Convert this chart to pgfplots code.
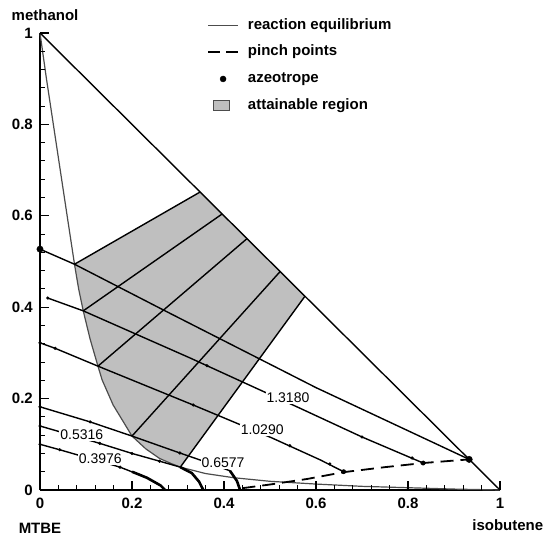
\documentclass[border=0pt]{standalone}
\usepackage{fontspec}
\setmainfont{Liberation Sans}
\usepackage{pgfplots}
\pgfplotsset{compat=1.18}

\begin{document}
\begin{tikzpicture}
\path (-40pt,-47pt) rectangle (506pt,490pt);
\begin{axis}[
  anchor=south west, at={(0pt,0pt)},
  scale only axis, width=460pt, height=457pt,
  xmin=0, xmax=1, ymin=0, ymax=1,
  axis lines=left,
  axis line style={-, line width=1.4pt},
  clip=false,
  xtick={0,0.2,0.4,0.6,0.8,1}, ytick={0,0.2,0.4,0.6,0.8,1},
  xticklabels={0,0.2,0.4,0.6,0.8,1}, yticklabels={0,0.2,0.4,0.6,0.8,1},
  major tick length=0pt,
  ticklabel style={font=\fontsize{15}{17}\selectfont\bfseries, inner sep=0pt},
  xticklabel style={anchor=north, yshift=-8pt},
  yticklabel style={anchor=east, xshift=-7pt},
  legend style={at={(axis description cs:0.363,1.033)}, anchor=north west,
    draw=none, fill=none, inner sep=0pt, row sep=12.3pt, column sep=9pt,
    font=\fontsize{15}{17}\selectfont\bfseries,
    nodes={inner sep=0pt, text height=11pt, text depth=3.5pt}},
  legend cell align=left,
]

% legend entries
\addlegendimage{legend image code/.code={\draw[black!70, line width=1pt] (0pt,0pt) -- (30pt,0pt);}}
\addlegendimage{legend image code/.code={\draw[black, line width=1.8pt, dash pattern=on 12pt off 6pt] (0pt,0pt) -- (30pt,0pt);}}
\addlegendimage{legend image code/.code={\path[draw=none] (0pt,0pt) -- (30pt,0pt); \fill[black] (15pt,0pt) circle (3pt);}}
\addlegendimage{legend image code/.code={\path[draw=none] (0pt,0pt) -- (30pt,0pt); \draw[black!70, fill=black!25, line width=0.6pt] (5pt,-5pt) rectangle (21pt,5pt);}}
\legend{reaction equilibrium, pinch points, azeotrope, attainable region}

% attainable region
\addplot[fill=black!25, draw=none] coordinates {
  (0.075,0.494) (0.348,0.652) (0.576,0.424) (0.305,0.050) (0.285,0.058)
  (0.260,0.069) (0.230,0.090) (0.200,0.118) (0.159,0.186) (0.135,0.241)
  (0.126,0.271) (0.109,0.330) (0.094,0.392) (0.084,0.440) (0.075,0.494)} -- cycle;

% reaction equilibrium
\addplot[black!70, line width=1.2pt] coordinates {
  (0,1) (0.014,0.9) (0.029,0.8) (0.044,0.7) (0.059,0.6) (0.075,0.494)
  (0.084,0.44) (0.094,0.392) (0.109,0.33) (0.126,0.271) (0.135,0.241)
  (0.159,0.186) (0.200,0.118) (0.230,0.090) (0.260,0.069) (0.285,0.058)
  (0.305,0.050) (0.36,0.036) (0.42,0.027) (0.5,0.019) (0.6,0.013)
  (0.7,0.008) (0.8,0.005) (0.9,0.002) (1,0)};

% triangle edge methanol--isobutene
\addplot[black, line width=1.4pt] coordinates {(0,1) (1,0)};

% lines of the second family across the region
\addplot[black, line width=1.4pt] coordinates {(0.075,0.494) (0.348,0.652)};
\addplot[black, line width=1.4pt] coordinates {(0.094,0.392) (0.396,0.604)};
\addplot[black, line width=1.4pt] coordinates {(0.126,0.271) (0.450,0.550)};
\addplot[black, line width=1.4pt] coordinates {(0.200,0.118) (0.522,0.478)};
\addplot[black, line width=1.4pt] coordinates {(0.305,0.050) (0.576,0.424)};

% profiles from the methanol--MTBE edge
\addplot[black, line width=1.4pt] coordinates {(0,0.527) (0.075,0.494) (0.27,0.393) (0.6,0.224) (0.933,0.067)};
\addplot[black, line width=1.4pt] coordinates {(0.017,0.42) (0.094,0.392) (0.326,0.289) (0.565,0.179) (0.7,0.116) (0.833,0.059)};
\addplot[black, line width=1.4pt] coordinates {(0,0.322) (0.033,0.31) (0.126,0.271) (0.333,0.186) (0.504,0.114) (0.609,0.066) (0.66,0.04)};
\addplot[black, line width=1.4pt] coordinates {(0,0.182) (0.109,0.149) (0.2,0.118) (0.304,0.081) (0.37,0.058) (0.413,0.042) (0.428,0.02) (0.435,0)};
\addplot[black, line width=1.4pt] coordinates {(0,0.14) (0.13,0.102) (0.2,0.08) (0.26,0.063) (0.305,0.05) (0.33,0.037) (0.346,0.018) (0.355,0)};
\addplot[black, line width=1.4pt] coordinates {(0,0.1) (0.043,0.088) (0.174,0.05) (0.232,0.027) (0.262,0.01) (0.272,0)};
% dense end sections
\addplot[black, line width=2.6pt] coordinates {(0.413,0.042) (0.428,0.02) (0.435,0)};
\addplot[black, line width=2.6pt] coordinates {(0.305,0.05) (0.33,0.037) (0.346,0.018) (0.355,0)};
\addplot[black, line width=2.6pt] coordinates {(0.2,0.04) (0.232,0.027) (0.262,0.01) (0.272,0)};

% pinch points
\addplot[black, line width=1.8pt, dash pattern=on 13pt off 7pt] coordinates {
  (0.44,0.004) (0.5,0.012) (0.58,0.024) (0.66,0.039) (0.75,0.05) (0.833,0.059) (0.933,0.067)};

% profile labels
\begin{scope}[every node/.style={fill=white, inner sep=1pt, font=\fontsize{14}{16}\selectfont}]
\node at (axis cs:0.539,0.201) {1.3180};
\node at (axis cs:0.483,0.131) {1.0290};
\node at (axis cs:0.398,0.059) {0.6577};
\node at (axis cs:0.091,0.120) {0.5316};
\node at (axis cs:0.131,0.068) {0.3976};
\end{scope}

% steps along the profiles
\addplot[only marks, mark=*, mark size=1.4pt, black] coordinates {
  (0.017,0.42) (0.363,0.272) (0.7,0.116) (0.809,0.07)
  (0,0.322) (0.033,0.31) (0.333,0.186) (0.543,0.097) (0.63,0.057)
  (0,0.182) (0.109,0.149) (0.304,0.081)
  (0,0.14) (0.13,0.102) (0.2,0.08) (0.26,0.063)
  (0,0.1) (0.043,0.088) (0.174,0.05)};
\addplot[only marks, mark=*, mark size=2.2pt, black] coordinates {(0.833,0.059) (0.66,0.04)};

% azeotropes
\addplot[only marks, mark=*, mark size=3.2pt, black] coordinates {(0,0.527) (0.933,0.067)};

% inward ticks along both edges
\pgfplotsinvokeforeach{0.2,0.4,0.6,0.8,1}{
  \addplot[black, line width=1.1pt, forget plot] coordinates {(#1,0) (#1,0.0197)};
  \addplot[black, line width=1.1pt, forget plot] coordinates {(0,#1) (0.0196,#1)};
}
\pgfplotsinvokeforeach{0.04,0.08,0.12,0.16,0.24,0.28,0.32,0.36,0.44,0.48,0.52,0.56,0.64,0.68,0.72,0.76,0.84,0.88,0.92,0.96}{
  \addplot[black, line width=1pt, forget plot] coordinates {(#1,0) (#1,0.011)};
  \addplot[black, line width=1pt, forget plot] coordinates {(0,#1) (0.011,#1)};
}

% corner names
\begin{scope}[every node/.style={font=\fontsize{15}{17}\selectfont\bfseries, inner sep=0pt}]
\node at (axis description cs:0.011,1.039) {methanol};
\node at (axis description cs:0.0,-0.083) {MTBE};
\node at (axis description cs:1.017,-0.077) {isobutene};
\end{scope}
\end{axis}
\end{tikzpicture}
\end{document}
